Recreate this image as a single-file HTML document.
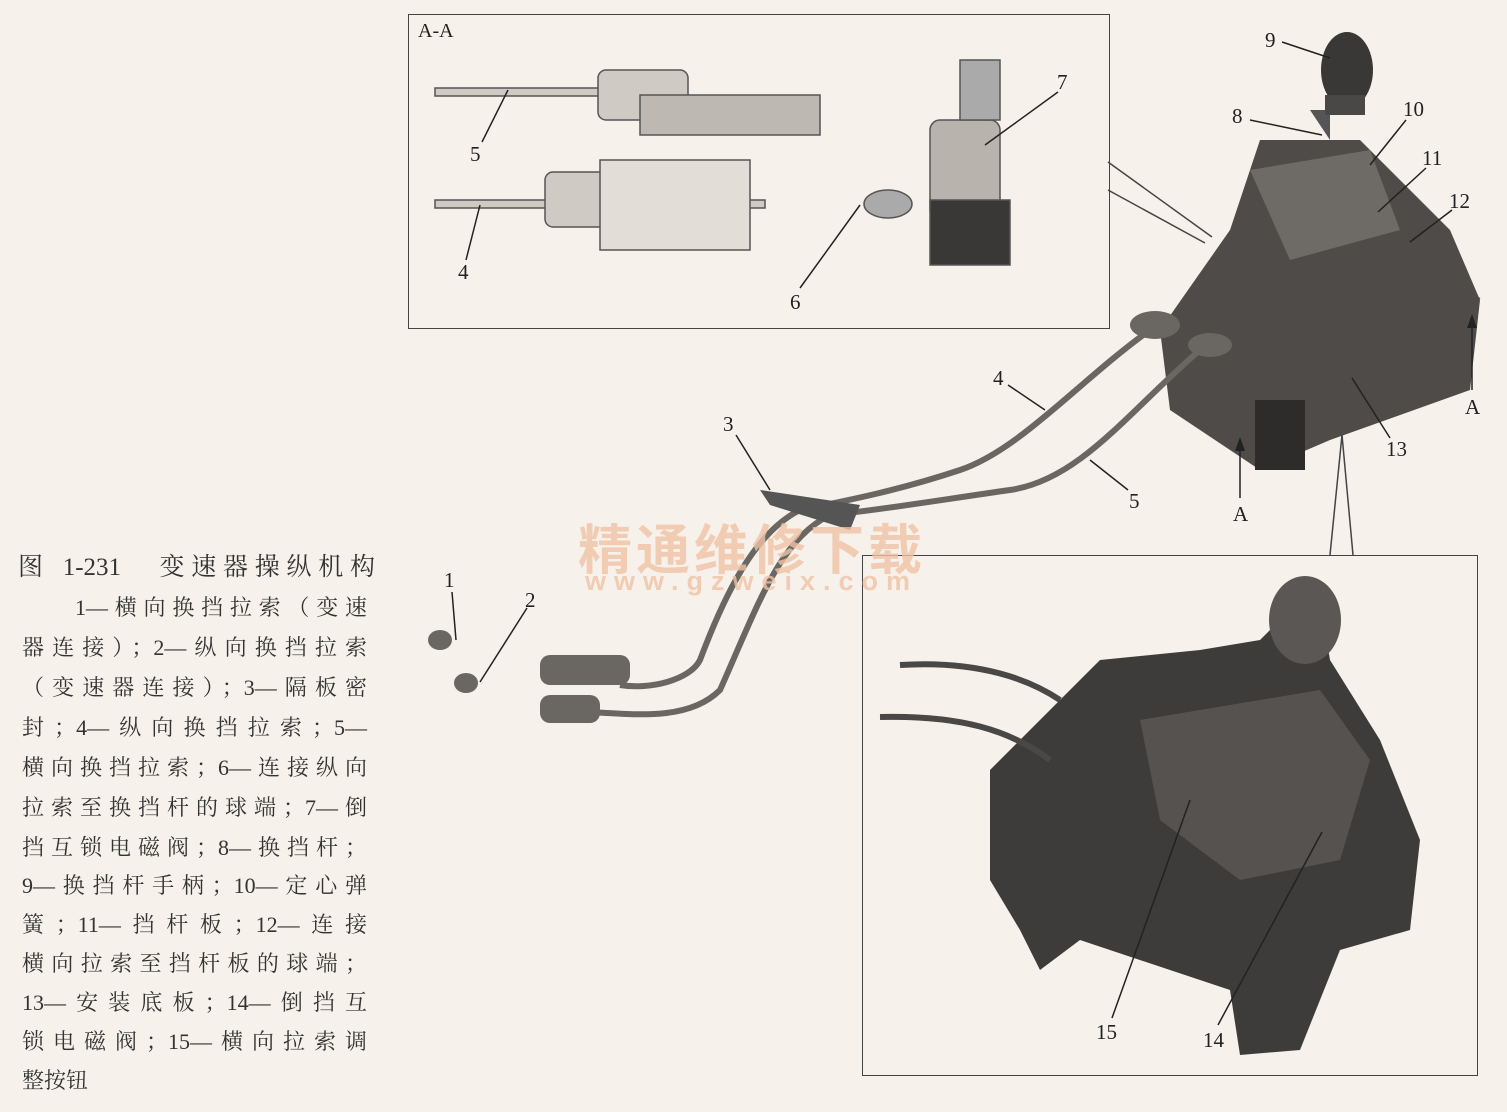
<!DOCTYPE html>
<html><head><meta charset="utf-8"><style>
body{margin:0;width:1507px;height:1112px;background:#f6f1ea;position:relative;overflow:hidden;font-family:"Liberation Serif","Noto Serif CJK SC",serif;color:#333}
.l{position:absolute;left:22px;width:345px;font-size:22px;line-height:26px;text-align:justify;text-align-last:justify;white-space:nowrap}
.n{position:absolute;font-size:21px;color:#222}
.box{position:absolute;border:1.5px solid #444}
</style></head><body>
<div class="l" style="top:553px;left:18px;width:357px;font-size:25px;line-height:30px">图 1-231　变速器操纵机构</div>
<div class="l" style="top:595px;left:75px;width:292px">1—横向换挡拉索（变速</div>
<div class="l" style="top:635px">器连接）；2—纵向换挡拉索</div>
<div class="l" style="top:675px">（变速器连接）；3—隔板密</div>
<div class="l" style="top:715px">封；4—纵向换挡拉索；5—</div>
<div class="l" style="top:755px">横向换挡拉索；6—连接纵向</div>
<div class="l" style="top:795px">拉索至换挡杆的球端；7—倒</div>
<div class="l" style="top:835px">挡互锁电磁阀；8—换挡杆；</div>
<div class="l" style="top:873px">9—换挡杆手柄；10—定心弹</div>
<div class="l" style="top:912px">簧；11—挡杆板；12—连接</div>
<div class="l" style="top:951px">横向拉索至挡杆板的球端；</div>
<div class="l" style="top:990px">13—安装底板；14—倒挡互</div>
<div class="l" style="top:1029px">锁电磁阀；15—横向拉索调</div>
<div class="l" style="top:1068px;width:auto;text-align-last:auto">整按钮</div>

<div class="box" style="left:408px;top:14px;width:700px;height:313px"></div>
<div class="box" style="left:862px;top:555px;width:614px;height:519px"></div>

<svg width="1507" height="1112" style="position:absolute;left:0;top:0" xmlns="http://www.w3.org/2000/svg">
<g stroke="#444" stroke-width="1.5" fill="none">
<line x1="1108" y1="162" x2="1212" y2="237"/><line x1="1108" y1="190" x2="1205" y2="243"/>
<line x1="1330" y1="555" x2="1342" y2="435"/><line x1="1353" y1="555" x2="1342" y2="435"/>
<line x1="1225" y1="438" x2="1480" y2="298" stroke-dasharray="20 4 3 4"/>
</g>
<!-- A-A box contents -->
<g fill="#cfcac4" stroke="#555" stroke-width="1.5">
<rect x="435" y="88" width="200" height="8"/>
<rect x="598" y="70" width="90" height="50" rx="8"/>
<rect x="435" y="200" width="330" height="8"/>
<rect x="545" y="172" width="90" height="55" rx="8"/>
<rect x="600" y="160" width="150" height="90" fill="#e2ddd6"/>
<rect x="640" y="95" width="180" height="40" fill="#bdb8b2"/>
<rect x="930" y="120" width="70" height="100" rx="10" fill="#b8b3ad"/>
<rect x="930" y="200" width="80" height="65" fill="#3a3836"/>
<rect x="960" y="60" width="40" height="60" fill="#aaa"/>
<ellipse cx="888" cy="204" rx="24" ry="14" fill="#aaa"/>
</g>
<!-- shifter main -->
<path d="M1160 330 L1230 230 L1260 140 L1360 140 L1450 230 L1480 300 L1470 390 L1330 440 L1260 470 L1170 410 Z" fill="#4e4b48"/>
<path d="M1250 170 L1370 150 L1400 230 L1290 260 Z" fill="#6e6a66"/>
<path d="M1330 140 L1310 110 L1330 110 Z" fill="#555"/>
<ellipse cx="1347" cy="70" rx="26" ry="38" fill="#3a3836"/>
<rect x="1325" y="95" width="40" height="20" fill="#4a4846"/>
<rect x="1255" y="400" width="50" height="70" fill="#2e2c2a"/>
<g fill="none" stroke="#6a6662" stroke-width="6">
<path d="M1150 330 C1080 380 1020 450 960 470 C900 490 850 500 800 510 C760 530 730 580 700 660 C690 680 650 690 620 685"/>
<path d="M1200 350 C1130 410 1080 480 1010 490 C940 500 880 510 830 515 C780 540 760 600 720 690 C690 720 640 715 590 712"/>
</g>
<path d="M760 490 L860 505 L850 530 L770 505 Z" fill="#555"/>
<g fill="#6a6662"><ellipse cx="1155" cy="325" rx="25" ry="14"/><ellipse cx="1210" cy="345" rx="22" ry="12"/>
<rect x="540" y="655" width="90" height="30" rx="10"/><rect x="540" y="695" width="60" height="28" rx="10"/>
<ellipse cx="440" cy="640" rx="12" ry="10"/><ellipse cx="466" cy="683" rx="12" ry="10"/></g>
<!-- bottom box image -->
<path d="M990 770 L1100 660 L1200 650 L1260 640 L1300 600 L1320 600 L1330 660 L1380 740 L1420 840 L1410 930 L1340 950 L1300 1050 L1240 1055 L1230 990 L1080 940 L1040 970 L1020 930 L990 880 Z" fill="#3e3c3a"/>
<path d="M1140 720 L1320 690 L1370 760 L1340 860 L1240 880 L1160 820 Z" fill="#555250"/>
<ellipse cx="1305" cy="620" rx="36" ry="44" fill="#5a5754"/>
<g fill="none" stroke="#4a4846" stroke-width="6"><path d="M900 665 C980 660 1030 680 1060 700"/><path d="M880 717 C960 715 1010 730 1050 760"/></g>
<!-- leader lines -->
<g stroke="#222" stroke-width="1.5" fill="none">
<line x1="482" y1="142" x2="508" y2="90"/>
<line x1="466" y1="260" x2="480" y2="205"/>
<line x1="800" y1="288" x2="860" y2="205"/>
<line x1="1058" y1="92" x2="985" y2="145"/>
<line x1="1282" y1="42" x2="1330" y2="58"/>
<line x1="1250" y1="120" x2="1322" y2="135"/>
<line x1="1406" y1="120" x2="1370" y2="165"/>
<line x1="1426" y1="168" x2="1378" y2="212"/>
<line x1="1452" y1="210" x2="1410" y2="242"/>
<line x1="1390" y1="438" x2="1352" y2="378"/>
<line x1="1008" y1="385" x2="1045" y2="410"/>
<line x1="1128" y1="490" x2="1090" y2="460"/>
<line x1="736" y1="435" x2="770" y2="490"/>
<line x1="452" y1="592" x2="456" y2="640"/>
<line x1="527" y1="608" x2="480" y2="682"/>
<line x1="1112" y1="1018" x2="1190" y2="800"/>
<line x1="1218" y1="1025" x2="1322" y2="832"/>
<line x1="1472" y1="390" x2="1472" y2="322"/>
<line x1="1240" y1="498" x2="1240" y2="445"/>
</g>
<g fill="#222"><path d="M1472 314 L1467 328 L1477 328 Z"/><path d="M1240 437 L1235 451 L1245 451 Z"/></g>
</svg>

<div style="position:absolute;left:578px;top:506px;font-family:'Noto Sans CJK SC',sans-serif;font-size:54px;color:#f0c3a6;letter-spacing:4px;font-weight:bold;opacity:.8;white-space:nowrap">精通维修下载</div>
<div style="position:absolute;left:585px;top:566px;font-family:'Liberation Sans',sans-serif;font-size:27px;font-weight:bold;color:#f0c3a6;letter-spacing:8px;opacity:.8;white-space:nowrap">www.gzweix.com</div>

<div class="n" style="left:418px;top:20px;font-size:20px">A-A</div>
<div class="n" style="left:470px;top:142px">5</div>
<div class="n" style="left:458px;top:260px">4</div>
<div class="n" style="left:790px;top:290px">6</div>
<div class="n" style="left:1057px;top:70px">7</div>
<div class="n" style="left:1265px;top:28px">9</div>
<div class="n" style="left:1232px;top:104px">8</div>
<div class="n" style="left:1403px;top:97px">10</div>
<div class="n" style="left:1422px;top:146px">11</div>
<div class="n" style="left:1449px;top:189px">12</div>
<div class="n" style="left:1465px;top:395px">A</div>
<div class="n" style="left:1386px;top:437px">13</div>
<div class="n" style="left:1233px;top:502px">A</div>
<div class="n" style="left:993px;top:366px">4</div>
<div class="n" style="left:1129px;top:489px">5</div>
<div class="n" style="left:723px;top:412px">3</div>
<div class="n" style="left:444px;top:568px">1</div>
<div class="n" style="left:525px;top:588px">2</div>
<div class="n" style="left:1096px;top:1020px">15</div>
<div class="n" style="left:1203px;top:1028px">14</div>
</body></html>
